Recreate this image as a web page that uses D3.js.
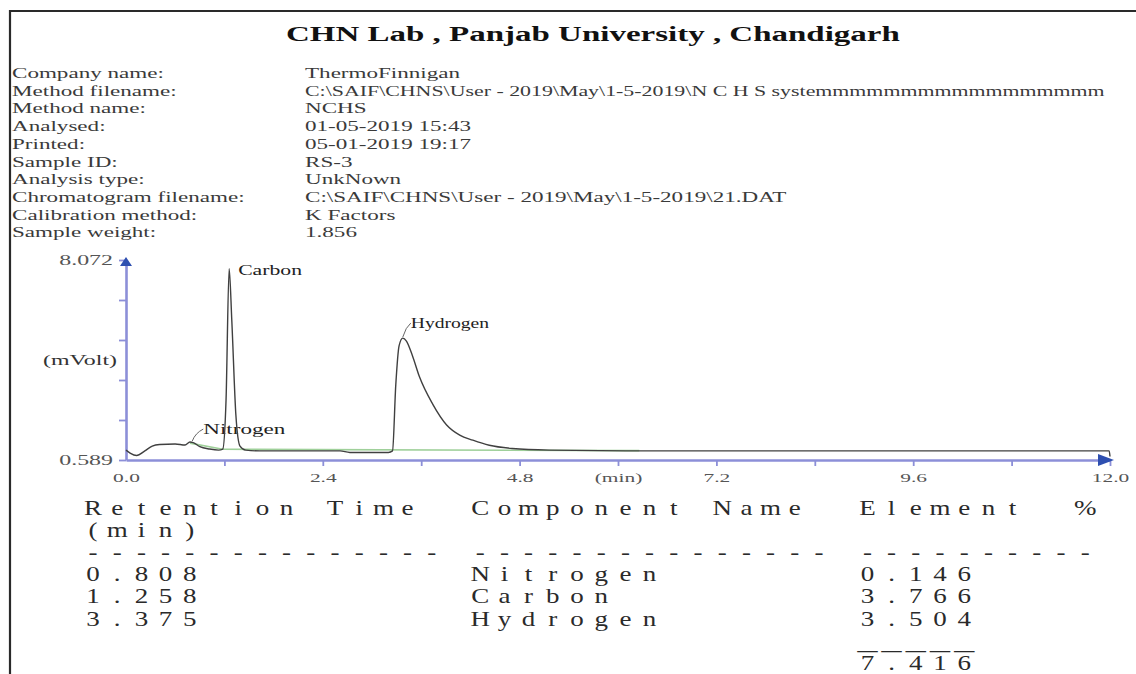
<!DOCTYPE html>
<html>
<head>
<meta charset="utf-8">
<script src="https://cdn.jsdelivr.net/npm/d3@7"></script>
<style>
  body { margin: 0; background: #fff; }
  svg { display: block; }
  text { font-family: "Liberation Serif", "Times New Roman", serif; }
</style>
</head>
<body>
<script>
// report header
const reportTitle = "CHN Lab , Panjab University , Chandigarh";
const metaLabels = ["Company name:", "Method filename:", "Method name:", "Analysed:", "Printed:",
    "Sample ID:", "Analysis type:", "Chromatogram filename:", "Calibration method:", "Sample weight:"];
const metaValues = ["ThermoFinnigan",
    "C:\\SAIF\\CHNS\\User - 2019\\May\\1-5-2019\\N C H S systemmmmmmmmmmmmmmmmm",
    "NCHS", "01-05-2019  15:43", "05-01-2019  19:17", "RS-3", "UnkNown",
    "C:\\SAIF\\CHNS\\User - 2019\\May\\1-5-2019\\21.DAT", "K Factors", "1.856"];

// chromatogram trace: retention time (min) vs detector signal (mVolt)
const traceTime = [0, 0.05, 0.13, 0.23, 0.32, 0.41, 0.60, 0.72, 0.78, 0.82, 0.90, 1.02, 1.13, 1.18,
    1.22, 1.258, 1.29, 1.34, 1.39, 1.46, 1.63, 2.61, 2.73, 3.20, 3.25, 3.29, 3.33, 3.375, 3.42,
    3.49, 3.58, 3.74, 3.91, 4.07, 4.23, 4.43, 4.71, 5.16, 6.26, 10.65, 11.99, 12.0];
const traceSignal = [0.96, 0.85, 0.76, 0.93, 1.11, 1.17, 1.19, 1.15, 1.26, 1.24, 1.09, 1.00, 0.96, 1.00,
    2.83, 7.75, 5.83, 2.27, 1.11, 0.96, 0.93, 0.93, 0.87, 0.87, 0.93, 3.40, 4.86, 5.15, 5.04,
    4.52, 3.69, 2.68, 1.90, 1.52, 1.33, 1.14, 1.02, 0.96, 0.93, 0.93, 0.93, 0.72];
// integration baseline
const baseTime = [0.78, 1.18, 6.26];
const baseSignal = [1.22, 0.99, 0.94];

// peaks
const peakNames = ["Nitrogen", "Carbon", "Hydrogen"];
const peakTimes = [0.808, 1.258, 3.375];
const peakApex = [1.26, 7.75, 5.15];
const peakTimeText = ["0.808", "1.258", "3.375"];
const elementPct = ["0.146", "3.766", "3.504"];
const totalPct = "7.416";

// axes
const xTickValues = [0, 1.2, 2.4, 3.6, 4.8, 6.0, 7.2, 8.4, 9.6, 10.8, 12.0];
const xTickLabels = ["0.0", "", "2.4", "", "4.8", "(min)", "7.2", "", "9.6", "", "12.0"];
const yTickValues = [0.589, 2.0856, 3.5822, 5.0788, 6.5754, 8.072];
const yTickLabels = ["0.589", "", "", "", "", "8.072"];
const yUnit = "(mVolt)";

const width = 1136, height = 674;
const S = 1.65;          // horizontal stretch of the printed report text
const TS = 1.35;         // stretch for the results table
const PITCH = 24.2;      // fixed character pitch of the results table

const svg = d3.select("body").append("svg")
    .attr("width", width)
    .attr("height", height);

svg.append("rect").attr("width", width).attr("height", height).attr("fill", "#fff");

// frame
svg.append("path")
    .attr("d", `M10,${height} V11 H${width}`)
    .attr("fill", "none")
    .attr("stroke", "#2a2a2a")
    .attr("stroke-width", 2.2);

function stretched(g, str, x, y, size, opts = {}) {
    return g.append("text")
        .attr("transform", `translate(${x},${y}) scale(${opts.s || S},1)`)
        .attr("font-size", size)
        .attr("font-weight", opts.bold ? "bold" : null)
        .attr("text-anchor", opts.anchor || "start")
        .attr("fill", opts.fill || "#222")
        .text(str);
}

// title + header block
stretched(svg, reportTitle, 286, 41, 20, { bold: true, fill: "#111" });
const meta = svg.append("g");
metaLabels.forEach((d, i) => {
    const yy = 78 + i * 17.7;
    stretched(meta, d, 12, yy, 14, { fill: "#3a3a3a" });
    const v = stretched(meta, metaValues[i], 305, yy, 14, { fill: "#3a3a3a" });
    // the long method path is squeezed so it ends before the right edge
    const w = v.node().getComputedTextLength();
    if (w * S > 1104 - 305) v.attr("transform", `translate(305,${yy}) scale(${(1104 - 305) / w},1)`);
});

// chart
const x = d3.scaleLinear().domain([0, 12]).range([126, 1110]);
const y = d3.scaleLinear().domain([0.589, 8.072]).range([460, 260]);
const axisColor = "#8c8fd8";

function stretchTicks(g) {
    g.selectAll(".tick text").each(function() {
        const t = d3.select(this);
        t.attr("x", (+t.attr("x") || 0) / S).attr("transform", `scale(${S},1)`);
    });
}

const xAxis = svg.append("g")
    .attr("transform", `translate(0,${y(0.589)})`)
    .call(d3.axisBottom(x).tickValues(xTickValues).tickSize(6).tickSizeOuter(0).tickPadding(7)
        .tickFormat((d, i) => xTickLabels[i]));
const yAxis = svg.append("g")
    .attr("transform", `translate(${x(0)},0)`)
    .call(d3.axisLeft(y).tickValues(yTickValues).tickSize(7).tickSizeOuter(0).tickPadding(6)
        .tickFormat((d, i) => yTickLabels[i]));

[xAxis, yAxis].forEach(g => {
    g.select(".domain").attr("stroke", axisColor).attr("stroke-width", 2.6);
    g.selectAll(".tick line").attr("stroke", axisColor).attr("stroke-width", 1.8);
    g.selectAll(".tick text").attr("font-family", "Liberation Serif, serif")
        .attr("font-size", 13).attr("fill", "#555");
    stretchTicks(g);
});
yAxis.selectAll(".tick text").attr("font-size", 14.5);
xAxis.selectAll(".tick line").filter(d => d === 0).remove();

stretched(svg, yUnit, 117, y((0.589 + 8.072) / 2) + 5, 14.5, { anchor: "end", fill: "#333" });

// axis arrows
svg.append("path")
    .attr("d", `M${x(0)},${y(8.072) - 3} l-6,9 h12 z`)
    .attr("fill", "#2e4fb0");
svg.append("path")
    .attr("d", `M${x(12) + 4},${y(0.589)} l-16,-6 v12 z`)
    .attr("fill", "#2e4fb0");

// peak labels (drawn under the trace)
const labelDx = [11, 9, 8], labelDy = [-8, 6, -10], labelS = [1.65, 1.55, 1.4];
peakNames.forEach((name, i) => {
    const px = x(peakTimes[i]), py = y(peakApex[i]);
    stretched(svg, name, px + labelDx[i], py + labelDy[i], 14, { s: labelS[i], fill: "#222" });
    if (labelDy[i] < 0) {
        svg.append("path")
            .attr("d", `M${px},${py - 1} Q${px + 3},${py + labelDy[i] - 1} ${px + labelDx[i]},${py + labelDy[i] - 5}`)
            .attr("fill", "none").attr("stroke", "#555").attr("stroke-width", 0.9);
    }
});

// baseline and trace
const line = d3.line().x(d => x(d[0])).y(d => y(d[1]));
svg.append("path")
    .datum(d3.zip(baseTime, baseSignal))
    .attr("d", line)
    .attr("fill", "none").attr("stroke", "#9fd09a").attr("stroke-width", 1.6);
svg.append("path")
    .datum(d3.zip(traceTime, traceSignal))
    .attr("d", line.curve(d3.curveMonotoneX))
    .attr("fill", "none").attr("stroke", "#404040").attr("stroke-width", 1.4);

// results table (fixed pitch print-out)
const table = svg.append("g").attr("fill", "#2a2a2a");
const col = [93, 93 + 16 * PITCH, 93 + 32 * PITCH];
const row = i => 515 + i * 22.1;
function gridText(str, cx, yy, sx) {
    const k = sx || TS;
    const chars = Array.from(str).map((c, i) => ({ c, i })).filter(d => d.c !== " ");
    table.append("text")
        .attr("transform", `translate(${cx},${yy}) scale(${k},1)`)
        .attr("font-size", 20)
        .attr("text-anchor", "middle")
        .attr("x", chars.map(d => (d.i * PITCH / k).toFixed(2)).join(" "))
        .attr("y", 0)
        .text(chars.map(d => d.c).join(""));
}
gridText("Retention Time", col[0], row(0));
gridText("Component Name", col[1], row(0));
gridText("Element  %", col[2], row(0));
gridText("(min)", col[0], row(1));
gridText("---------------", col[0], row(2));
gridText("---------------", col[1], row(2));
gridText("----------", col[2], row(2));
peakNames.forEach((name, i) => {
    gridText(peakTimeText[i], col[0], row(3 + i));
    gridText(name, col[1], row(3 + i));
    gridText(elementPct[i], col[2], row(3 + i));
});
gridText("_____", col[2], row(6) + 1, 2.0);
gridText(totalPct, col[2], row(7));
</script>
</body>
</html>
